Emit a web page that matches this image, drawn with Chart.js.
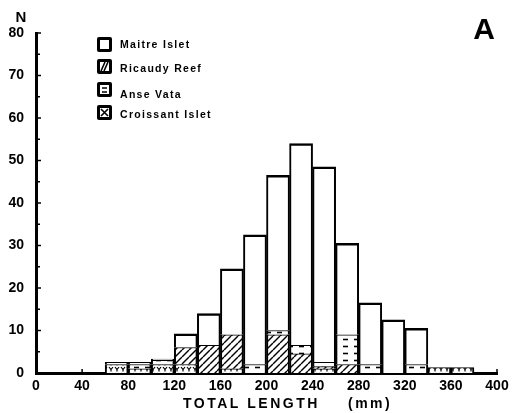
<!DOCTYPE html>
<html><head><meta charset="utf-8">
<script src="https://cdn.jsdelivr.net/npm/chart.js@4/dist/chart.umd.min.js"></script>
<style>html,body{margin:0;padding:0;background:#fff}#wrap{width:514px;height:413px;position:relative}canvas{display:block}</style>
</head><body><div id="wrap"><canvas id="c" width="514" height="413"></canvas></div>
<script>
// Bin starts (mm), 20 mm wide bins
const binStart  = [60, 80, 100, 120, 140, 160, 180, 200, 220, 240, 260, 280, 300, 320, 340, 360];
const croissant = [2,   1,   2,   2,   0,   1,   0,   0,   0,   1,   0,   0,   0,   0, 1.3, 1.3];
const ricaudy   = [0,   0,   0,   4, 6.5,   8,   0,   9, 4.5, 0.5,   2,   0,   0,   0,   0,   0];
const anseVata  = [0,   1,   1,   0,   0,   0,   2,   1,   2,   1,   7,   2,   0,   2,   0,   0];
const maitre    = [0.5, 0.5, 0.3, 3.2, 7.5, 15.5, 30.5, 36.5, 47.5, 46, 21.5, 14.5, 12.5, 8.5, 0, 0];
const seriesNames = ['Maitre Islet', 'Ricaudy Reef', 'Anse Vata', 'Croissant Islet'];
const xTitle = ['TOTAL LENGTH', '(mm)'];
const yTitle = 'N';
const panelLetter = 'A';

function tile(w, h, draw) {
  const c = document.createElement('canvas'); c.width = w; c.height = h;
  const g = c.getContext('2d'); g.fillStyle = '#fff'; g.fillRect(0, 0, w, h);
  g.strokeStyle = '#000'; g.fillStyle = '#000'; draw(g);
  return c;
}
const tiles = {
  ricaudy: tile(7, 7, g => { g.lineWidth = 1.4; for (const o of [-7, 0, 7]) { g.beginPath(); g.moveTo(o, 7); g.lineTo(o + 7, 0); g.stroke(); } }),
  anse: tile(11, 7, g => { g.lineWidth = 1.6; g.beginPath(); g.moveTo(2, 3.5); g.lineTo(7, 3.5); g.stroke(); }),
  croissant: tile(6, 6, g => { g.lineWidth = 1.2; g.beginPath(); g.moveTo(1, 1); g.lineTo(3, 3.5); g.lineTo(5, 1); g.moveTo(3, 3.5); g.lineTo(3, 5.5); g.stroke(); })
};
const pctx = document.getElementById('c').getContext('2d');
const pats = {};
for (const k in tiles) pats[k] = pctx.createPattern(tiles[k], 'repeat');

const centers = binStart.map(s => s + 10);
const pts = arr => arr.map((v, i) => ({ x: centers[i], y: v }));
const thin = { top: 1, left: 2, right: 2, bottom: 0 };

const decor = {
  id: 'decor',
  afterDraw(chart) {
    const { ctx, chartArea: a, scales: { x, y } } = chart;
    ctx.save();
    ctx.strokeStyle = '#000'; ctx.lineWidth = 1.5;
    for (let v = 5; v <= 80; v += 5) {
      const py = y.getPixelForValue(v);
      ctx.beginPath(); ctx.moveTo(a.left, py); ctx.lineTo(a.left + (v % 10 === 0 ? 5 : 4), py); ctx.stroke();
    }
    for (let v = 40; v <= 400; v += 40) {
      const px = x.getPixelForValue(v);
      ctx.beginPath(); ctx.moveTo(px, a.bottom); ctx.lineTo(px, a.bottom - 4); ctx.stroke();
    }
    ctx.fillStyle = '#000';
    ctx.textBaseline = 'middle';
    ctx.textAlign = 'center';
    ctx.font = 'bold 15px "Liberation Sans", Arial, sans-serif';
    ctx.fillText(yTitle, 21, 18);
    ctx.font = 'bold 30px "Liberation Sans", Arial, sans-serif';
    ctx.fillText(panelLetter, 484, 31);
    // x title
    ctx.textAlign = 'left';
    ctx.font = 'bold 14px "Liberation Sans", Arial, sans-serif';
    ctx.letterSpacing = '2.5px';
    ctx.fillText(xTitle[0], 183, 404);
    ctx.fillText(xTitle[1], 348, 404);
    // legend
    const keys = ['maitre', 'ricaudy', 'anse', 'croissant'];
    const ys = [37, 59, 82, 105];
    const ty = [45, 69, 95, 115];
    ctx.font = 'bold 10.5px "Liberation Sans", Arial, sans-serif';
    ctx.letterSpacing = '1.3px';
    keys.forEach((k, i) => {
      const sx = 97, sy = ys[i], s = 15;
      ctx.fillStyle = '#000';
      ctx.beginPath(); ctx.roundRect(sx, sy, s, s, 2); ctx.fill();
      ctx.fillStyle = '#fff'; ctx.fillRect(sx + 3, sy + 3, s - 6, s - 6);
      ctx.strokeStyle = '#000'; ctx.lineWidth = 1.6;
      if (k === 'ricaudy') {
        ctx.beginPath(); ctx.moveTo(sx + 4, sy + 12); ctx.lineTo(sx + 8, sy + 3);
        ctx.moveTo(sx + 7, sy + 12); ctx.lineTo(sx + 11, sy + 3); ctx.stroke();
      } else if (k === 'anse') {
        ctx.beginPath(); ctx.moveTo(sx + 5, sy + 6); ctx.lineTo(sx + 10, sy + 6);
        ctx.moveTo(sx + 5, sy + 10); ctx.lineTo(sx + 10, sy + 10); ctx.stroke();
      } else if (k === 'croissant') {
        ctx.beginPath(); ctx.moveTo(sx + 4, sy + 4); ctx.lineTo(sx + 11, sy + 11);
        ctx.moveTo(sx + 11, sy + 4); ctx.lineTo(sx + 4, sy + 11); ctx.stroke();
      }
      ctx.fillStyle = '#000';
      ctx.fillText(seriesNames[i], 120, ty[i]);
    });
    ctx.restore();
  }
};

new Chart(document.getElementById('c'), {
  type: 'bar',
  data: {
    datasets: [
      { label: seriesNames[3], data: pts(croissant), backgroundColor: pats.croissant, borderWidth: thin },
      { label: seriesNames[1], data: pts(ricaudy), backgroundColor: pats.ricaudy, borderWidth: thin },
      { label: seriesNames[2], data: pts(anseVata), backgroundColor: pats.anse, borderWidth: thin },
      { label: seriesNames[0], data: pts(maitre), backgroundColor: '#fff', borderWidth: { top: 2.5, left: 2, right: 2, bottom: 0 } }
    ]
  },
  options: {
    responsive: false,
    devicePixelRatio: 1,
    animation: false,
    layout: { padding: { top: 33, right: 17, left: 0, bottom: 0 } },
    datasets: { bar: { borderColor: '#000', borderSkipped: false, barPercentage: 1, categoryPercentage: 1 } },
    plugins: { legend: { display: false }, tooltip: { enabled: false } },
    scales: {
      x: {
        type: 'linear', stacked: true, min: 0, max: 400, offset: false,
        afterFit: s => { s.height = 40; },
        grid: { display: false, drawTicks: false, offset: false },
        border: { display: true, color: '#000', width: 3 },
        ticks: { stepSize: 40, padding: 5, color: '#000', font: { family: '"Liberation Sans", Arial, sans-serif', size: 14, weight: 'bold' }, maxRotation: 0, autoSkip: false }
      },
      y: {
        stacked: true, min: 0, max: 80,
        afterFit: s => { s.width = 36; },
        grid: { display: false, drawTicks: false },
        border: { display: true, color: '#000', width: 3 },
        ticks: { stepSize: 10, padding: 12, color: '#000', font: { family: '"Liberation Sans", Arial, sans-serif', size: 14, weight: 'bold' } }
      }
    }
  },
  plugins: [decor]
});
</script>
</body></html>
